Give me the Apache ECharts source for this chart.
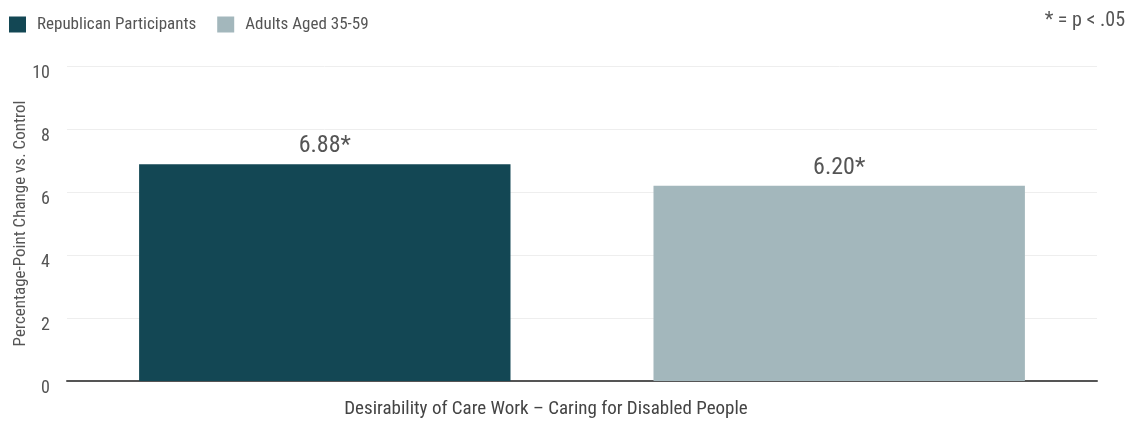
<!DOCTYPE html>
<html><head><meta charset="utf-8">
<script src="https://cdn.jsdelivr.net/npm/echarts@6/dist/echarts.min.js"></script>
<style>html,body{margin:0;padding:0;background:#fff}#c{width:1135px;height:427px}</style>
</head><body><div id="c"></div>
<script>
const categories = ['Desirability of Care Work – Caring for Disabled People'];
const seriesNames = ['Republican Participants', 'Adults Aged 35-59'];
const republicanValues = [6.88];
const adultsValues = [6.20];
const labels1 = ['6.88*'];
const labels2 = ['6.20*'];
const yTicks = [0, 2, 4, 6, 8, 10];
const yAxisName = 'Percentage-Point Change vs. Control';
const FONT = "'Roboto Condensed','Liberation Sans Narrow','DejaVu Sans Condensed',Roboto,sans-serif";
const colors = ['#134754', '#a3b7bc'];
const chart = echarts.init(document.getElementById('c'));
chart.setOption({
  animation: false,
  textStyle: {fontFamily: FONT},
  color: colors,
  legend: {
    left: 4, top: 11, itemWidth: 17, itemHeight: 16, itemGap: 21, icon: 'rect',
    textStyle: {fontFamily: FONT, fontSize: 17, color: '#555', padding: [0, 0, 0, 6]},
    data: seriesNames
  },
  graphic: [{
    type: 'text', right: 10, top: 11,
    style: {text: '* = p < .05', font: '20px ' + FONT, fill: '#555'}
  }, {
    type: 'text', x: 21, y: 223.5, rotation: Math.PI / 2,
    style: {text: yAxisName, font: '17px ' + FONT, fill: '#555', align: 'center', verticalAlign: 'middle'}
  }],
  grid: {left: 67, right: 38, top: 66, bottom: 46, outerBoundsMode: 'none', containLabel: false},
  xAxis: {
    type: 'category', data: categories,
    axisLine: {lineStyle: {color: '#555', width: 2}},
    axisTick: {show: false},
    axisLabel: {fontFamily: FONT, fontSize: 19, color: '#444', margin: 19, padding: [0, 72, 0, 0]}
  },
  yAxis: {
    type: 'value', min: yTicks[0], max: yTicks[yTicks.length - 1], interval: 2,
    axisLine: {show: false}, axisTick: {show: false},
    axisLabel: {
      margin: 17, align: 'right',
      formatter: v => '{a|' + v + '}',
      rich: {a: {fontFamily: FONT, fontSize: 18, color: '#555', padding: [14, 0, 0, 0]}}
    },
    splitLine: {lineStyle: {color: '#eeeeee', width: 1}}
  },
  series: [
    {name: seriesNames[0], type: 'bar', data: republicanValues, barGap: '38.5%', barCategoryGap: '14%',
     label: {show: true, position: 'top', distance: 6, formatter: p => labels1[p.dataIndex], fontFamily: FONT, fontSize: 24, color: '#555'}},
    {name: seriesNames[1], type: 'bar', data: adultsValues,
     label: {show: true, position: 'top', distance: 6, formatter: p => labels2[p.dataIndex], fontFamily: FONT, fontSize: 24, color: '#555'}}
  ]
});
</script></body></html>
